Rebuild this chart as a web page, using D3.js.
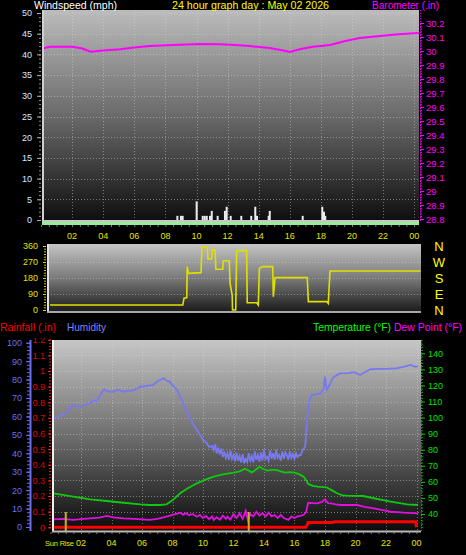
<!DOCTYPE html>
<html><head><meta charset="utf-8">
<script src="https://cdn.jsdelivr.net/npm/d3@7"></script>
<style>html,body{margin:0;padding:0;background:#000;}svg{display:block;font-family:"Liberation Sans",Arial,sans-serif;}</style>
</head><body><svg id="c" width="466" height="555"></svg>
<script>
// ---------- DATA ----------
const hourTicks = [2,4,6,8,10,12,14,16,18,20,22,24];
const hourLabels = ["02","04","06","08","10","12","14","16","18","20","22","00"];
const speedTicks = [0,5,10,15,20,25,30,35,40,45,50];
const baroTicks = [28.8,28.9,29.0,29.1,29.2,29.3,29.4,29.5,29.6,29.7,29.8,29.9,30.0,30.1,30.2];
const dirTicks = [0,90,180,270,360];
const dirLetters = ["N","E","S","W","N"];
const humTicks = [0,10,20,30,40,50,60,70,80,90,100];
const rainTicks = [0,0.1,0.2,0.3,0.4,0.5,0.6,0.7,0.8,0.9,1.0,1.1,1.2];
const tempTicks = [40,50,60,70,80,90,100,110,120,130,140];

const windHours = [8.77,9.0,9.11,10.01,10.4,10.53,10.66,10.87,10.98,11.36,11.83,11.94,12.2,12.88,13.52,13.78,13.89,14.64,14.71,16.83,18.09,18.2,18.28];
const windSpeeds = [1,1,1,4.5,1,1,1,1,2.2,1,2.2,3.2,1,1,1,3.2,1,1,2.2,1,3.2,2,1];

const baroHours = [0.13,0.6,1.4,2.0,2.6,3.2,3.8,4.4,5.1,6.0,7.0,8.5,10.2,11.5,12.5,13.4,14.7,15.5,16.0,16.7,17.5,18.6,19.5,20.5,21.8,23.0,24.3];
const baroValues = [30.019,30.031,30.031,30.03,30.02,29.995,30.002,30.008,30.012,30.025,30.036,30.043,30.05,30.048,30.042,30.036,30.021,30.005,29.993,30.014,30.03,30.043,30.07,30.093,30.107,30.12,30.129];

const dirHours = [0.13,8.78,8.86,9.04,9.07,9.14,9.97,10.03,10.38,10.42,10.66,10.7,10.88,10.94,11.38,11.42,11.81,11.86,12.0,12.02,12.23,12.29,12.94,12.98,13.6,13.7,13.77,13.99,14.64,14.68,14.79,16.89,16.96,18.16,18.26,18.37,24.28];
const dirValues = [28,28,66,70,244,206,210,356,356,287,287,338,338,229,229,277,277,150,84,0,0,334,334,41,41,28,234,244,244,75,182,182,47,47,37,219,219];

const humHours = [0.2,0.5,0.85,1.1,1.4,1.7,2.0,2.3,2.6,2.8,3.0,3.2,3.5,3.8,4.1,4.4,4.8,5.1,5.4,5.9,6.3,6.7,7.0,7.4,7.6,7.8,8.0,8.3,8.6,8.9,9.2,9.4,9.6,9.8,10.0,10.2,10.4,10.6,10.7,10.8,10.9,11.0,11.1,11.2,11.3,11.4,11.5,11.6,11.7,11.8,11.9,12.0,12.1,12.2,12.3,12.4,12.5,12.6,12.7,12.8,12.9,13.0,13.1,13.2,13.3,13.4,13.5,13.6,13.7,13.8,13.9,14.0,14.1,14.2,14.3,14.4,14.5,14.6,14.7,14.8,14.9,15.0,15.1,15.2,15.3,15.4,15.5,15.6,15.7,15.8,15.9,16.0,16.1,16.2,16.3,16.4,16.55,16.7,16.8,16.9,17.0,17.1,17.4,17.7,17.9,18.0,18.1,18.3,18.5,18.7,19.0,19.5,19.9,20.3,20.6,21.0,21.5,22.0,22.7,23.2,23.6,23.9,24.1];
const humValues = [59,60,61,63,66,65.5,65.6,66.5,67,69,68,71,74.7,73.5,73.4,74.5,73.4,74,74,76.1,76.5,77,79,80.7,79.5,78.9,77,74.3,69,63.5,58,55,52.6,50,47.2,46,43.5,44,41.8,45,40,43,39.5,42.5,38,41,37.5,40,36.5,41.5,37,39,35.5,40.5,36,38.5,35,39.5,34.5,37,35.4,40,36,38.5,35,41,36.5,39,35.5,40.5,36,42,37,38.1,36,41.5,37,40,36.5,42,37.5,39,36,41,37,40.5,39,36.5,41,37.5,39.5,37,40,38,39,39,42,43.6,55,65.3,69,71.6,72,72.5,75,81.6,74.3,77,80.7,82,83.4,83.5,84,82.5,84,85.6,85.8,85.8,86.1,87,87.9,87,87];

const tempHours = [0.2,1.5,2.6,3.7,4.8,5.9,6.5,7.2,7.6,8.0,8.5,9.0,9.6,10.2,10.7,11.3,12.0,12.4,12.75,13.0,13.2,13.45,13.7,13.95,14.2,14.5,14.8,15.1,15.4,15.7,16.0,16.3,16.6,16.8,16.9,17.2,17.5,18.1,18.4,18.8,19.1,19.4,20.5,21.2,22.3,23.4,24.1];
const tempValues = [52.9,50.8,49.1,48.1,47,46,45.6,45.6,46,48.5,52.9,56,59.1,61.5,63.2,64.6,65.7,66.5,68.2,67,65.9,67.5,69.4,68,67,67.5,67.4,66.5,65.7,66,65.7,64.8,63.2,60.5,58.7,57.5,57,56.6,55,52.9,51.8,51.4,51.2,49.8,47.7,46,45.6];

const dewHours = [0.2,0.8,1.5,2.0,2.6,3.2,3.7,4.2,4.8,5.5,6.0,6.5,7.0,7.6,8.0,8.3,8.5,8.7,8.9,9.1,9.3,9.6,9.8,10.0,10.2,10.4,10.6,10.7,10.9,11.1,11.3,11.5,11.6,11.8,12.0,12.2,12.4,12.6,12.8,12.95,13.1,13.3,13.5,13.7,13.9,14.1,14.3,14.5,14.7,14.9,15.1,15.3,15.6,15.8,16.0,16.2,16.4,16.6,16.75,16.9,17.2,17.5,17.8,18.0,18.2,18.4,18.7,19.0,20.1,20.6,21.2,21.8,22.3,23.2,24.1];
const dewValues = [36.7,37,36.3,36.8,37.3,37.8,38.8,37.8,37.3,37,36.6,36.3,37,38.3,39.5,40.3,40.8,39.6,40.5,39.2,40,38.3,39.5,37.5,38.8,36.8,38.5,36.3,38,36.5,39,37,38.3,36.5,40,37.5,40.4,37,42,36,40,38.5,41.4,39,40.5,38.5,40.8,38.5,39.4,37.5,39.5,37.5,36.3,38.5,37.5,38.5,38.8,39.5,41,47,46.8,46.6,47.5,49.1,46.8,46.6,46,45.6,45.6,44.5,43.5,42.4,41.4,40.8,40.4];

const rainHours = [0.2,16.75,16.9,18.5,18.6,23.95,24.0];
const rainValues = [0,0,0.03,0.03,0.036,0.036,0];

const markerHours = [1.0,13.0];

// ---------- SETUP ----------
const svg = d3.select("#c");
svg.append("rect").attr("width",466).attr("height",555).attr("fill","#000");
const defs = svg.append("defs");
function grad(id, top, mid, bot){
  const g = defs.append("linearGradient").attr("id",id).attr("x1",0).attr("x2",0).attr("y1",0).attr("y2",1);
  g.append("stop").attr("offset","0%").attr("stop-color",top);
  g.append("stop").attr("offset","50%").attr("stop-color",mid);
  g.append("stop").attr("offset","100%").attr("stop-color",bot);
}
grad("g1","#bcbcbc","#6a6a6a","#0e0e0e");
grad("g2","#c4c4c4","#7a7a7a","#1a1a1a");
grad("g3","#c6c6c6","#6e6e6e","#0a0a0a");
defs.append("clipPath").attr("id","clipB").append("rect").attr("x",0).attr("y",338).attr("width",466).attr("height",220);

const gridStyle = s => s.attr("stroke","#d8d8d8").attr("stroke-opacity",0.45).attr("stroke-width",1).attr("stroke-dasharray","1,2");
function label(x,y,txt,color,size,len,anchor){
  const t = svg.append("text").attr("x",x).attr("y",y).attr("fill",color).attr("font-size",size).text(txt);
  if(anchor) t.attr("text-anchor",anchor);
  if(len) t.attr("textLength",len).attr("lengthAdjust","spacingAndGlyphs");
  return t;
}

// ---------- TOP PANEL ----------
const TP = {x0:42, x1:419, y0:10, y1:221};
const xTop = d3.scaleLinear().domain([0,24]).range([41,414.2]);
const ySpeed = d3.scaleLinear().domain([0,50]).range([220,13]);
const yBaro = d3.scaleLinear().domain([28.8,30.2]).range([219,23]);

svg.append("rect").attr("x",TP.x0).attr("y",TP.y0).attr("width",TP.x1-TP.x0).attr("height",TP.y1-TP.y0).attr("fill","url(#g1)");
svg.append("g").selectAll("line").data(speedTicks.filter(d=>d>0)).join("line")
  .attr("x1",TP.x0).attr("x2",TP.x1).attr("y1",d=>Math.round(ySpeed(d))+0.5).attr("y2",d=>Math.round(ySpeed(d))+0.5).call(gridStyle);
svg.append("g").selectAll("line").data(hourTicks).join("line")
  .attr("x1",d=>Math.round(xTop(d))+0.5).attr("x2",d=>Math.round(xTop(d))+0.5).attr("y1",TP.y0).attr("y2",TP.y1).call(gridStyle);

// wind bars
svg.append("g").selectAll("rect").data(windHours.map((h,i)=>({h,v:windSpeeds[i]}))).join("rect")
  .attr("x",d=>xTop(d.h)-1).attr("width",2)
  .attr("y",d=>ySpeed(d.v)).attr("height",d=>ySpeed(0)-ySpeed(d.v)).attr("fill","#ececec");

// barometer line
svg.append("path").datum(baroHours.map((h,i)=>[h,baroValues[i]]))
  .attr("d",d3.line().x(d=>xTop(d[0])).y(d=>yBaro(d[1])))
  .attr("fill","none").attr("stroke","#ff00ff").attr("stroke-width",2);

// borders
svg.append("rect").attr("x",42).attr("y",TP.y0).attr("width",2).attr("height",TP.y1-TP.y0+1).attr("fill","#d0d0d0");
svg.append("rect").attr("x",42).attr("y",220).attr("width",377).attr("height",2).attr("fill","#c8c8c8");
svg.append("rect").attr("x",42).attr("y",222).attr("width",377).attr("height",3).attr("fill","#98ee98");

// left speed axis
const minorS = svg.append("g").attr("transform","translate(41,0)")
  .call(d3.axisLeft(ySpeed).tickValues(d3.range(0,51,1)).tickSize(2).tickFormat(""));
minorS.select(".domain").remove(); minorS.selectAll("line").attr("stroke","#909090");
const axS = svg.append("g").attr("transform","translate(41,0)")
  .call(d3.axisLeft(ySpeed).tickValues(speedTicks).tickSize(4).tickPadding(5));
axS.select(".domain").remove(); axS.selectAll("line").attr("stroke","#b0b0b0");
axS.selectAll("text").attr("fill","#dfe8ff").attr("font-size","9px").attr("font-family","Liberation Sans, Arial");

// right baro axis
svg.append("line").attr("x1",420.5).attr("x2",420.5).attr("y1",10).attr("y2",221).attr("stroke","#ff00ff").attr("stroke-dasharray","1,1.8");
const minorB = svg.append("g").attr("transform","translate(420,0)")
  .call(d3.axisRight(yBaro).tickValues(d3.range(0,71).map(i=>28.8+i*0.02)).tickSize(2).tickFormat(""));
minorB.select(".domain").remove(); minorB.selectAll("line").attr("stroke","#ff00ff");
const axB = svg.append("g").attr("transform","translate(420,0)")
  .call(d3.axisRight(yBaro).tickValues(baroTicks).tickSize(4).tickPadding(2).tickFormat(d=>String(+d.toFixed(1))));
axB.select(".domain").remove(); axB.selectAll("line").attr("stroke","#ff00ff");
axB.selectAll("text").attr("fill","#ff00ff").attr("font-size","9.5px").attr("font-family","Liberation Sans, Arial");

// top x axis
const minorT = svg.append("g").attr("transform","translate(0,225)")
  .call(d3.axisBottom(xTop).tickValues(d3.range(0,24.5,0.5)).tickSize(2).tickFormat(""));
minorT.select(".domain").remove(); minorT.selectAll("line").attr("stroke","#808080");
svg.append("g").selectAll("text").data(hourTicks).join("text")
  .attr("x",d=>xTop(d)).attr("y",238.5).attr("text-anchor","middle")
  .attr("fill","#e4e400").attr("font-size","9px").text((d,i)=>hourLabels[i]);

// titles
label(34,8.5,"Windspeed (mph)","#ffffff","11px",83);
label(172,8.5,"24 hour graph day : May 02 2026","#ffff00","11px",157);
label(372,8.5,"Barometer (.in)","#ff00ff","11px",67);

// ---------- WIND DIRECTION PANEL ----------
const WP = {x0:48, x1:421, y0:244, y1:312};
const xDir = d3.scaleLinear().domain([0,24]).range([48,416.4]);
const yDir = d3.scaleLinear().domain([0,360]).range([310,246]);
svg.append("rect").attr("x",WP.x0).attr("y",WP.y0).attr("width",WP.x1-WP.x0).attr("height",WP.y1-WP.y0).attr("fill","url(#g2)");
svg.append("g").selectAll("line").data(dirTicks.filter(d=>d>0)).join("line")
  .attr("x1",WP.x0).attr("x2",WP.x1).attr("y1",d=>Math.round(yDir(d))+0.5).attr("y2",d=>Math.round(yDir(d))+0.5).call(gridStyle);
svg.append("rect").attr("x",47).attr("y",WP.y0).attr("width",2).attr("height",WP.y1-WP.y0).attr("fill","#e0e0e0");
svg.append("rect").attr("x",47).attr("y",311).attr("width",374).attr("height",2).attr("fill","#a8a8a8");
svg.append("path").datum(dirHours.map((h,i)=>[h,dirValues[i]]))
  .attr("d",d3.line().x(d=>xDir(d[0])).y(d=>yDir(d[1])))
  .attr("fill","none").attr("stroke","#e0e000").attr("stroke-width",1.6);
const minorD = svg.append("g").attr("transform","translate(46,0)")
  .call(d3.axisLeft(yDir).tickValues(d3.range(0,361,15)).tickSize(2).tickFormat(""));
minorD.select(".domain").remove(); minorD.selectAll("line").attr("stroke","#c8c800");
const axD = svg.append("g").attr("transform","translate(46,0)")
  .call(d3.axisLeft(yDir).tickValues(dirTicks).tickSize(3).tickPadding(5));
axD.select(".domain").remove(); axD.selectAll("line").attr("stroke","#d0d000");
axD.selectAll("text").attr("fill","#e0e000").attr("font-size","9px").attr("font-family","Liberation Sans, Arial");
svg.append("g").selectAll("text").data(dirTicks).join("text")
  .attr("x",439).attr("y",d=>yDir(d)+5).attr("text-anchor","middle")
  .attr("fill","#ffff00").attr("font-size","13px").text((d,i)=>dirLetters[i]);

// ---------- BOTTOM PANEL ----------
const BP = {x0:52, x1:421, y0:340, y1:532};
const xBot = d3.scaleLinear().domain([0,24]).range([50.5,416.5]);
const yRain = d3.scaleLinear().domain([0,1.2]).range([527.3,339.7]);
const yHum = d3.scaleLinear().domain([0,100]).range([527,342.7]);
const yTemp = d3.scaleLinear().domain([40,140]).range([514,353.3]);

svg.append("rect").attr("x",BP.x0).attr("y",BP.y0).attr("width",BP.x1-BP.x0).attr("height",BP.y1-BP.y0).attr("fill","url(#g3)");
svg.append("g").selectAll("line").data(rainTicks.filter(d=>d>0&&d<1.15)).join("line")
  .attr("x1",BP.x0).attr("x2",BP.x1).attr("y1",d=>Math.round(yRain(d))+0.5).attr("y2",d=>Math.round(yRain(d))+0.5).call(gridStyle);
svg.append("g").selectAll("line").data(hourTicks).join("line")
  .attr("x1",d=>Math.round(xBot(d))+0.5).attr("x2",d=>Math.round(xBot(d))+0.5).attr("y1",BP.y0).attr("y2",BP.y1).call(gridStyle);

const lineOf = (hs,vs,ys) => d3.line().x(d=>xBot(d[0])).y(d=>ys(d[1]))(hs.map((h,i)=>[h,vs[i]]));
svg.append("path").attr("d",lineOf(humHours,humValues,yHum)).attr("fill","none").attr("stroke","#7878f0").attr("stroke-width",1.8);
svg.append("path").attr("d",lineOf(tempHours,tempValues,yTemp)).attr("fill","none").attr("stroke","#10c810").attr("stroke-width",1.8);
svg.append("path").attr("d",lineOf(dewHours,dewValues,yTemp)).attr("fill","none").attr("stroke","#e010e0").attr("stroke-width",1.8);
svg.append("path").attr("d",lineOf(rainHours,rainValues,yRain)).attr("fill","none").attr("stroke","#ff0000").attr("stroke-width",3);
svg.append("line").attr("x1",53).attr("x2",xBot(rainHours[0])).attr("y1",yRain(0)).attr("y2",yRain(0)).attr("stroke","#ff0000").attr("stroke-width",3);

svg.append("g").selectAll("line").data(markerHours).join("line")
  .attr("x1",d=>xBot(d)).attr("x2",d=>xBot(d)).attr("y1",512).attr("y2",531)
  .attr("stroke","#c8b020").attr("stroke-width",2);

// borders
svg.append("rect").attr("x",52).attr("y",BP.y0).attr("width",2).attr("height",BP.y1-BP.y0).attr("fill","#f0f0f0");
svg.append("rect").attr("x",52).attr("y",530.5).attr("width",369).attr("height",2).attr("fill","#b8b8b8");

const gB = svg.append("g").attr("clip-path","url(#clipB)");
// humidity axis
gB.append("line").attr("x1",30.5).attr("x2",30.5).attr("y1",340).attr("y2",531).attr("stroke","#6c6cf0").attr("stroke-width",2);
const minorH = gB.append("g").attr("transform","translate(30,0)")
  .call(d3.axisLeft(yHum).tickValues(d3.range(0,101,2)).tickSize(3).tickFormat(""));
minorH.select(".domain").remove(); minorH.selectAll("line").attr("stroke","#6c6cf0");
const axH = gB.append("g").attr("transform","translate(30,0)")
  .call(d3.axisLeft(yHum).tickValues(humTicks).tickSize(4).tickPadding(4));
axH.select(".domain").remove(); axH.selectAll("line").attr("stroke","#6c6cf0");
axH.selectAll("text").attr("fill","#7070e8").attr("font-size","9px").attr("font-family","Liberation Sans, Arial");
// rain axis
const minorR = gB.append("g").attr("transform","translate(51,0)")
  .call(d3.axisLeft(yRain).tickValues(d3.range(0,61).map(i=>i*0.02)).tickSize(2).tickFormat(""));
minorR.select(".domain").remove(); minorR.selectAll("line").attr("stroke","#e02020");
const axR = gB.append("g").attr("transform","translate(51,0)")
  .call(d3.axisLeft(yRain).tickValues(rainTicks).tickSize(3).tickPadding(3).tickFormat(d=>String(+d.toFixed(1))));
axR.select(".domain").remove(); axR.selectAll("line").attr("stroke","#ff2020");
axR.selectAll("text").attr("fill","#e00000").attr("font-size","9px").attr("font-family","Liberation Sans, Arial");
// temp axis
svg.append("line").attr("x1",421.5).attr("x2",421.5).attr("y1",340).attr("y2",532).attr("stroke","#00c000").attr("stroke-dasharray","1,1.5");
const minorTe = svg.append("g").attr("transform","translate(421,0)")
  .call(d3.axisRight(yTemp).tickValues(d3.range(32,150,2)).tickSize(2).tickFormat(""));
minorTe.select(".domain").remove(); minorTe.selectAll("line").attr("stroke","#00b000");
const axT = svg.append("g").attr("transform","translate(421,0)")
  .call(d3.axisRight(yTemp).tickValues(tempTicks).tickSize(4).tickPadding(3));
axT.select(".domain").remove(); axT.selectAll("line").attr("stroke","#00c000");
axT.selectAll("text").attr("fill","#00e000").attr("font-size","9px").attr("font-family","Liberation Sans, Arial");
// bottom x axis
const minorX = svg.append("g").attr("transform","translate(0,532)")
  .call(d3.axisBottom(xBot).tickValues(d3.range(0,24.5,0.5)).tickSize(2).tickFormat(""));
minorX.select(".domain").remove(); minorX.selectAll("line").attr("stroke","#808080");
svg.append("g").selectAll("text").data(hourTicks).join("text")
  .attr("x",d=>xBot(d)).attr("y",545.5).attr("text-anchor","middle")
  .attr("fill","#e4e400").attr("font-size","9px").text((d,i)=>hourLabels[i]);
label(45,545.5,"Sun Rise","#e4e400","7.5px").attr("letter-spacing","-0.2");

// headers
label(0,330.5,"Rainfall (.in)","#ff0000","11px",56);
label(67,330.5,"Humidity","#8080ff","11px",39);
label(313,330.5,"Temperature (°F)","#00ff00","11px",78);
label(394,330.5,"Dew Point (°F)","#ff00ff","11px",68);
</script></body></html>
